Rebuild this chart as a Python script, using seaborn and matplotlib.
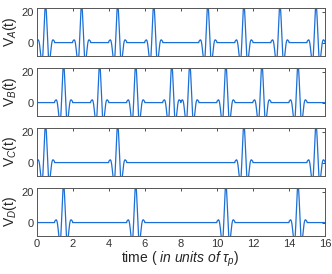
import matplotlib
matplotlib.use("Agg")
import matplotlib.pyplot as plt
import seaborn as sns
import numpy as np
import pandas as pd

# Pulse centres for each signal (in units of tau_p)
centers_a = [0.5, 2.5, 4.5, 6.5, 9.5, 11.5, 13.5, 15.5]
centers_b = [1.5, 3.5, 5.5, 7.5, 8.5, 10.5, 12.5, 14.5]
centers_c = [0.5, 4.5, 11.5, 15.5]
centers_d = [1.5, 5.5, 10.5, 14.5]
labels = ["A", "B", "C", "D"]
x_ticks = [0, 2, 4, 6, 8, 10, 12, 14, 16]
y_ticks = [0, 20]

sns.set_style("white")
plt.rcParams["font.family"] = ["Liberation Sans", "DejaVu Sans"]
plt.rcParams["mathtext.fontset"] = "custom"
plt.rcParams["mathtext.rm"] = "Liberation Sans"
plt.rcParams["mathtext.it"] = "Liberation Sans:italic"


def pulse(x):
    # windowed oscillating pulse, support |x| < 0.5
    y = 25 * np.cos(2 * np.pi * 2.15 * x) * np.exp(-x**2 / (2 * 0.19**2))
    return np.where(np.abs(x) < 0.5, y, 0.0)


t = np.linspace(0, 16, 4001)
fig, axes = plt.subplots(4, 1, figsize=(3.32, 2.74), dpi=100, sharex=True)
fig.subplots_adjust(left=0.11, right=0.979, top=0.971, bottom=0.139, hspace=0.25)

for ax, centers, lab in zip(axes, [centers_a, centers_b, centers_c, centers_d], labels):
    v = sum(pulse(t - c) for c in centers)
    df = pd.DataFrame({"t": t, "v": v})
    sns.lineplot(data=df, x="t", y="v", ax=ax, color="#1b6fd6", lw=0.9)
    ax.set_xlim(0, 16)
    ax.set_ylim(-8.7, 22.6)
    ax.set_yticks(y_ticks)
    ax.set_xticks(x_ticks)
    ax.set_ylabel("V$_{%s}$(t)" % lab, fontsize=10, labelpad=2)
    ax.set_xlabel("")
    ax.tick_params(direction="in", length=2.5, width=0.6, labelsize=8,
                   top=True, right=True, colors="#333333", pad=2)
    for s in ax.spines.values():
        s.set_color("#555555")
        s.set_linewidth(0.7)
    ax.yaxis.set_label_coords(-0.062, 0.5)

axes[-1].set_xlabel(r"time ( $\it{in\ units\ of}\ \tau_p$)", fontsize=10, labelpad=1)

plt.savefig("out.png", dpi=100)
